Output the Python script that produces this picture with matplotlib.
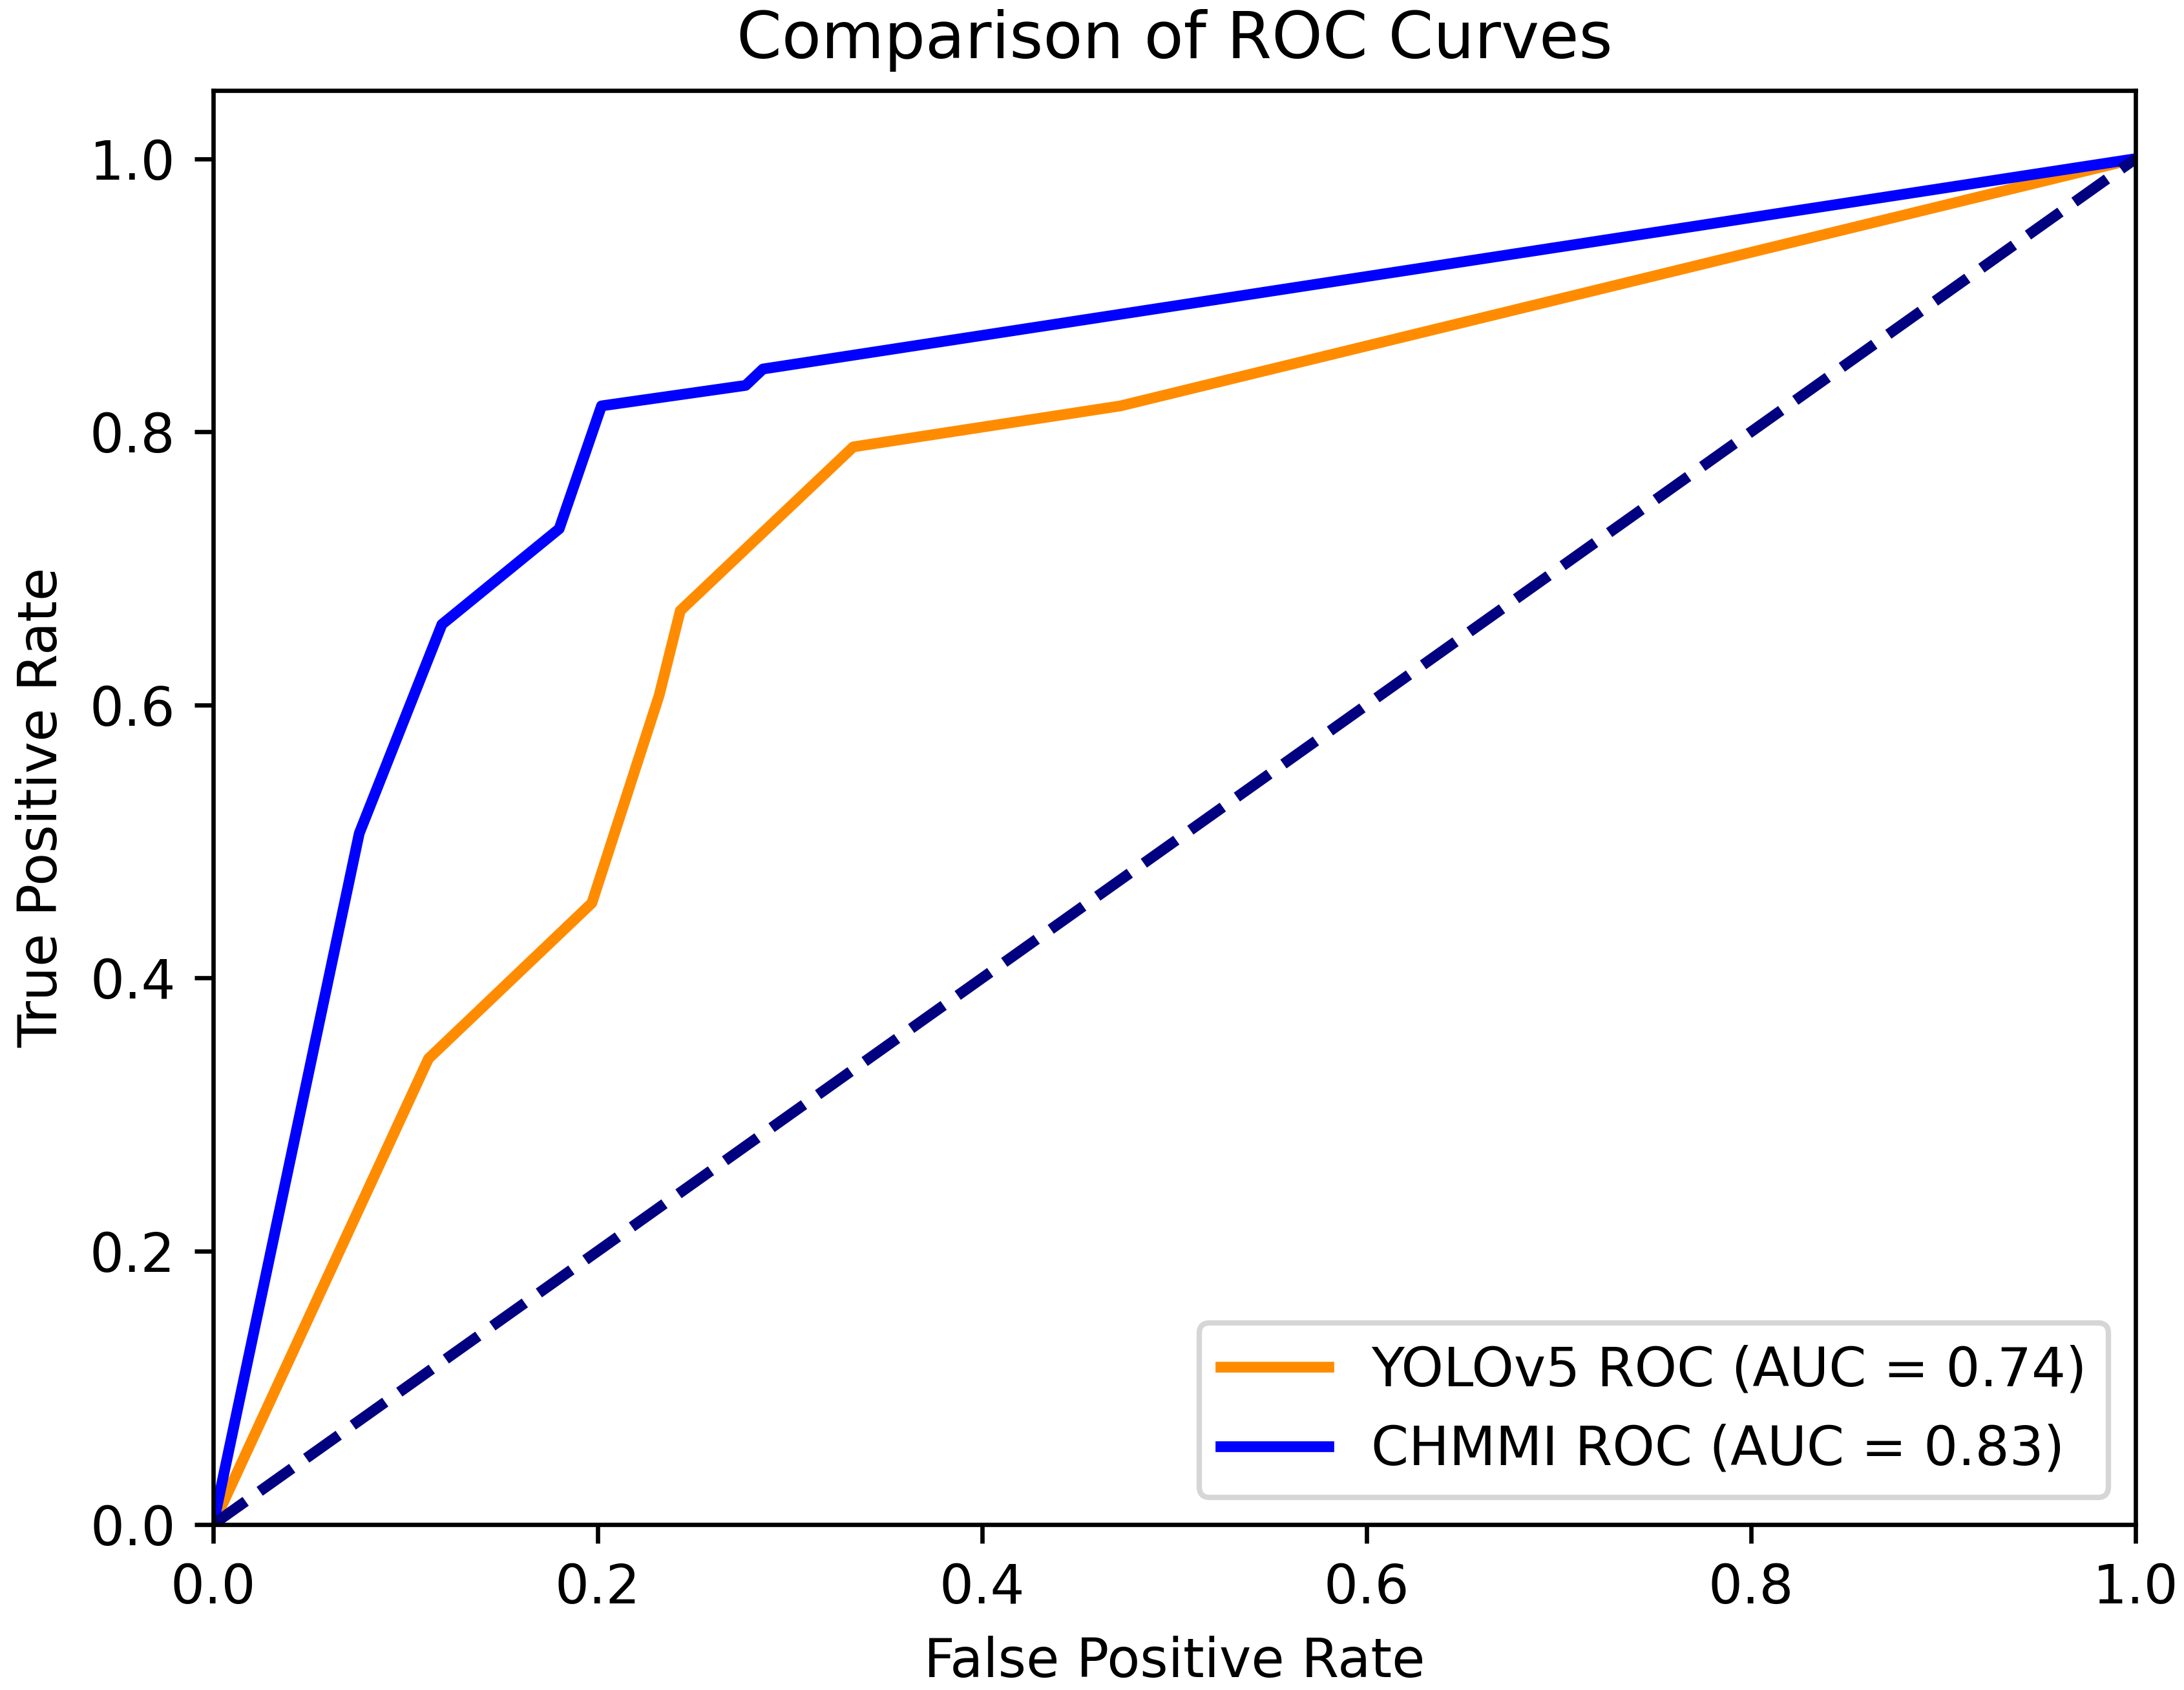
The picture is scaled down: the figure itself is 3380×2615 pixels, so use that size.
import matplotlib
matplotlib.use("Agg")
import matplotlib.pyplot as plt

# ROC points
yolo_fpr = [0.0, 0.112, 0.197, 0.232, 0.243, 0.333, 0.472, 1.0]
yolo_tpr = [0.0, 0.341, 0.455, 0.607, 0.669, 0.789, 0.819, 1.0]
yolo_auc = 0.74

chmmi_fpr = [0.0, 0.076, 0.119, 0.180, 0.202, 0.277, 0.286, 1.0]
chmmi_tpr = [0.0, 0.506, 0.659, 0.729, 0.819, 0.834, 0.846, 1.0]
chmmi_auc = 0.83

chance = [0.0, 1.0]

DPI = 600
fig = plt.figure(figsize=(3380 / DPI, 2615 / DPI), dpi=DPI)
ax = fig.add_axes([0.0976, 0.098, 0.8802, 0.8485])

ax.plot(yolo_fpr, yolo_tpr, color='darkorange', lw=2,
        label='YOLOv5 ROC (AUC = %0.2f)' % yolo_auc)
ax.plot(chmmi_fpr, chmmi_tpr, color='blue', lw=2,
        label='CHMMI ROC (AUC = %0.2f)' % chmmi_auc)
ax.plot(chance, chance, color='navy', lw=2, linestyle='--')

ax.set_xlim(0.0, 1.0)
ax.set_ylim(0.0, 1.05)
ax.set_xlabel('False Positive Rate')
ax.set_ylabel('True Positive Rate')
ax.set_title('Comparison of ROC Curves')
ax.legend(loc='lower right')

fig.savefig('out.png', dpi=DPI)
